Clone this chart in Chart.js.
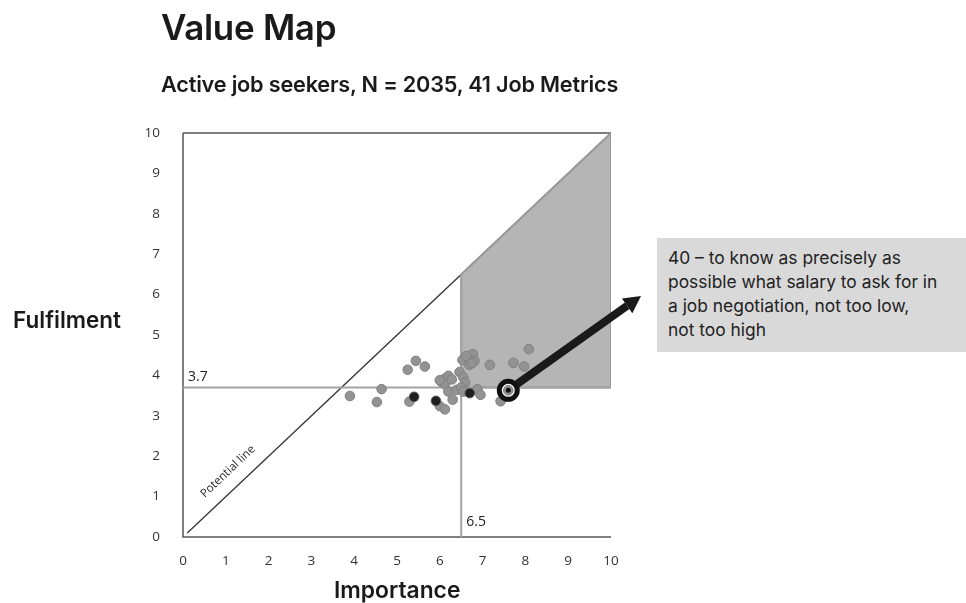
<!DOCTYPE html>
<html>
<head>
<meta charset="utf-8">
<script src="https://cdn.jsdelivr.net/npm/chart.js@4.4.1/dist/chart.umd.min.js"></script>
<style>
  html, body { margin: 0; padding: 0; background: #fff; }
  #wrap { position: relative; width: 966px; height: 603px; overflow: hidden; font-family: Inter, "Noto Sans", sans-serif; color: #1a1a1a; }
  #chart { position: absolute; left: 0; top: 0; }
  .title { position: absolute; left: 161px; top: 6px; font-size: 35px; font-weight: 600; letter-spacing: -0.3px; }
  .subtitle { position: absolute; left: 161px; top: 71px; font-size: 21.7px; font-weight: 600; letter-spacing: -0.2px; }
  .ylab { position: absolute; left: 13px; top: 306px; font-size: 22.5px; font-weight: 600; }
  .xlab { position: absolute; left: 334px; top: 576px; font-size: 22.8px; font-weight: 600; }
  .note { position: absolute; left: 657px; top: 238px; width: 298px; height: 106px; background: #d9d9d9;
          padding: 8px 0 0 11px; font-size: 17.4px; line-height: 24px; color: #222; white-space: nowrap; }
</style>
</head>
<body>
<div id="wrap">
  <canvas id="chart" width="966" height="603"></canvas>
  <div class="title">Value Map</div>
  <div class="subtitle">Active job seekers, N = 2035, 41 Job Metrics</div>
  <div class="ylab">Fulfilment</div>
  <div class="xlab">Importance</div>
  <div class="note">40 – to know as precisely as<br>possible what salary to ask for in<br>a job negotiation, not too low,<br>not too high</div>
</div>
<script>
// importance (x) and fulfilment (y) per job metric
const importance = [3.90, 4.53, 4.64, 5.25, 5.44, 5.65, 5.29, 6.00, 6.12, 6.04,
                    6.12, 6.20, 6.12, 6.20, 6.30, 6.46, 6.55, 6.59, 6.39, 6.50,
                    6.55, 6.88, 6.95, 6.53, 6.67, 6.77, 6.81, 6.69, 6.62, 7.17,
                    7.72, 7.97, 8.08, 7.42, 6.28, 6.75, 6.00];
const fulfilment = [3.49, 3.34, 3.66, 4.14, 4.36, 4.22, 3.35, 3.24, 3.16, 3.84,
                    3.92, 3.99, 3.78, 3.60, 3.40, 4.08, 3.95, 3.82, 3.64, 3.70,
                    3.60, 3.66, 3.52, 4.38, 4.42, 4.53, 4.36, 4.26, 4.48, 4.26,
                    4.31, 4.22, 4.65, 3.36, 3.90, 4.30, 3.88];
// darker markers
const darkImportance = [5.40, 5.91, 6.70];
const darkFulfilment = [3.47, 3.37, 3.56];
// highlighted metric 40
const highlight = { x: 7.60, y: 3.63 };

const avgImportance = 6.5;
const avgFulfilment = 3.7;
const axisMax = 10;
const xTicks = [0, 1, 2, 3, 4, 5, 6, 7, 8, 9, 10];
const yTicks = [0, 1, 2, 3, 4, 5, 6, 7, 8, 9, 10];

const points = importance.map((x, i) => ({ x: x, y: fulfilment[i] }));
const darkPoints = darkImportance.map((x, i) => ({ x: x, y: darkFulfilment[i] }));

// shaded opportunity area: right of avg importance, above avg fulfilment, below potential line
const shaded = [
    { x: avgImportance, y: avgFulfilment },
    { x: avgImportance, y: avgImportance },
    { x: axisMax, y: axisMax },
    { x: axisMax, y: avgFulfilment },
    { x: avgImportance, y: avgFulfilment }
];

const tickFont = { family: '"Open Sans", "Liberation Sans", sans-serif', size: 13.5 };

const overlayPlugin = {
    id: 'overlay',
    beforeDatasetsDraw(chart) {
        const { ctx, chartArea: a } = chart;
        ctx.save();
        ctx.lineWidth = 1.5;
        ctx.strokeStyle = '#555';
        ctx.beginPath();
        ctx.moveTo(a.left, a.top);
        ctx.lineTo(a.left, a.bottom);
        ctx.lineTo(a.right, a.bottom);
        ctx.moveTo(a.left, a.top);
        ctx.lineTo(a.right, a.top);
        ctx.stroke();
        ctx.restore();
    },
    afterDatasetsDraw(chart) {
        const { ctx, scales: { x, y } } = chart;
        ctx.save();
        // labels of the average lines
        ctx.fillStyle = '#222';
        ctx.font = '14px "Open Sans", "Liberation Sans", sans-serif';
        ctx.textBaseline = 'bottom';
        ctx.fillText('3.7', x.getPixelForValue(0) + 5, y.getPixelForValue(avgFulfilment) - 4);
        ctx.fillText('6.5', x.getPixelForValue(avgImportance) + 5, y.getPixelForValue(0) - 8);

        // potential line label
        const px = x.getPixelForValue(1.05), py = y.getPixelForValue(1.62);
        const ang = Math.atan2(y.getPixelForValue(1) - y.getPixelForValue(0), x.getPixelForValue(1) - x.getPixelForValue(0));
        ctx.translate(px, py);
        ctx.rotate(ang);
        ctx.font = '11.5px "Open Sans", "Liberation Sans", sans-serif';
        ctx.textAlign = 'center';
        ctx.textBaseline = 'middle';
        ctx.fillText('Potential line', 0, 0);
        ctx.setTransform(1, 0, 0, 1, 0, 0);

        // arrow from metric 40 to the note
        const sx = x.getPixelForValue(highlight.x), sy = y.getPixelForValue(highlight.y);
        const ex = 641, ey = 296;
        const d = Math.atan2(ey - sy, ex - sx);
        const head = 17;
        const bx = ex - head * Math.cos(d), by = ey - head * Math.sin(d);
        ctx.strokeStyle = '#1a1a1a';
        ctx.fillStyle = '#1a1a1a';
        ctx.lineWidth = 8;
        ctx.beginPath();
        ctx.moveTo(sx + 10 * Math.cos(d), sy + 10 * Math.sin(d));
        ctx.lineTo(bx, by);
        ctx.stroke();
        ctx.beginPath();
        ctx.moveTo(ex, ey);
        ctx.lineTo(bx + 9 * Math.sin(d), by - 9 * Math.cos(d));
        ctx.lineTo(bx - 9 * Math.sin(d), by + 9 * Math.cos(d));
        ctx.closePath();
        ctx.fill();
        ctx.restore();
    }
};

new Chart(document.getElementById('chart'), {
    type: 'scatter',
    data: {
        datasets: [
            {
                label: 'metric 40 centre',
                data: [highlight],
                pointRadius: 2.5,
                backgroundColor: '#111',
                borderWidth: 0,
                order: 1
            },
            {
                label: 'metric 40 marker',
                data: [highlight],
                pointRadius: 4.8,
                backgroundColor: '#939393',
                borderColor: '#808080',
                borderWidth: 1,
                order: 2
            },
            {
                label: 'metric 40 ring',
                data: [highlight],
                pointRadius: 9,
                backgroundColor: '#ffffff',
                borderColor: '#111',
                borderWidth: 5,
                order: 3
            },
            {
                label: 'dark metrics',
                data: darkPoints,
                pointRadius: 4.8,
                backgroundColor: '#1f1f1f',
                borderColor: '#555',
                borderWidth: 1,
                order: 4
            },
            {
                label: 'metrics',
                data: points,
                pointRadius: 4.8,
                backgroundColor: '#939393',
                borderColor: '#808080',
                borderWidth: 1,
                order: 5
            },
            {
                label: 'avg importance',
                data: [{ x: avgImportance, y: 0 }, { x: avgImportance, y: avgImportance }],
                showLine: true,
                borderColor: '#a3a3a3',
                borderWidth: 2,
                pointRadius: 0,
                order: 7
            },
            {
                label: 'avg fulfilment',
                data: [{ x: 0, y: avgFulfilment }, { x: axisMax, y: avgFulfilment }],
                showLine: true,
                borderColor: '#a3a3a3',
                borderWidth: 2,
                pointRadius: 0,
                order: 7
            },
            {
                label: 'shaded',
                data: shaded,
                showLine: true,
                fill: 'shape',
                backgroundColor: '#b5b5b5',
                borderColor: '#9a9a9a',
                borderWidth: 2,
                pointRadius: 0,
                order: 8
            },
            {
                label: 'potential line',
                data: [{ x: 0.1, y: 0.1 }, { x: axisMax, y: axisMax }],
                showLine: true,
                borderColor: '#333',
                borderWidth: 1.3,
                pointRadius: 0,
                order: 9
            }
        ]
    },
    options: {
        responsive: false,
        animation: false,
        events: [],
        layout: { padding: { left: 143, right: 355, top: 133, bottom: 38 } },
        plugins: { legend: { display: false }, tooltip: { enabled: false } },
        scales: {
            x: {
                type: 'linear',
                min: 0,
                max: axisMax,
                afterFit(scale) { scale.height = 28; },
                afterBuildTicks(scale) { scale.ticks = xTicks.map(v => ({ value: v })); },
                grid: { display: false },
                border: { display: false },
                ticks: { color: '#333', font: tickFont, padding: 8 }
            },
            y: {
                type: 'linear',
                min: 0,
                max: axisMax,
                afterFit(scale) { scale.width = 40; },
                afterBuildTicks(scale) { scale.ticks = yTicks.map(v => ({ value: v })); },
                grid: { display: false },
                border: { display: false },
                ticks: { color: '#333', font: tickFont, padding: 15 }
            }
        }
    },
    plugins: [overlayPlugin]
});
</script>
</body>
</html>
